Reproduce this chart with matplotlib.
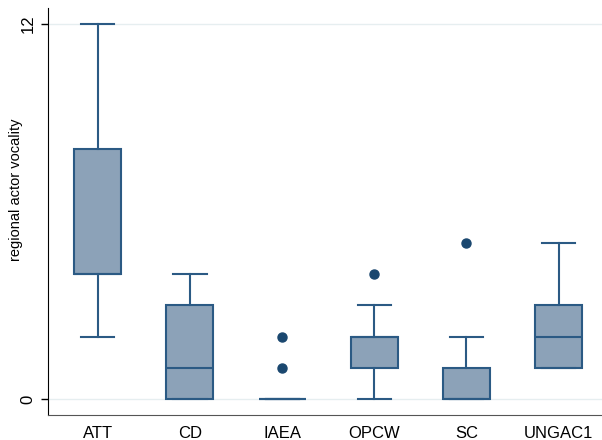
import matplotlib
matplotlib.use("Agg")
import matplotlib.pyplot as plt

plt.rcParams['font.family'] = ['Liberation Sans', 'DejaVu Sans']

boxcolor = '#8ca2b8'
edgecolor = '#2b5a84'
dotcolor = '#1a476f'
gridcolor = '#e6eef0'

groups = ['ATT', 'CD', 'IAEA', 'OPCW', 'SC', 'UNGAC1']
whislo = [2, 0, 0, 0, 0, 1]
q1 = [4, 0, 0, 1, 0, 1]
med = [4, 1, 0, 2, 0, 2]
q3 = [8, 3, 0, 2, 1, 3]
whishi = [12, 4, 0, 3, 2, 5]
outliers = [[], [], [1, 2], [4], [5], []]

stats = []
for i in range(len(groups)):
    stats.append(dict(label=groups[i], whislo=whislo[i], q1=q1[i], med=med[i],
                      q3=q3[i], whishi=whishi[i], fliers=outliers[i]))

fig = plt.figure(figsize=(6.02, 4.40), dpi=100)
ax = fig.add_axes([48 / 602, 25 / 440, 554 / 602, 407 / 440])

for y in [0, 12]:
    ax.axhline(y, color=gridcolor, lw=1, zorder=0)

ax.bxp(stats, positions=range(1, len(groups) + 1), widths=0.51, patch_artist=True,
       boxprops=dict(facecolor=boxcolor, edgecolor=edgecolor, linewidth=1.5),
       medianprops=dict(color=edgecolor, linewidth=1.5),
       whiskerprops=dict(color=edgecolor, linewidth=1.5),
       capprops=dict(color=edgecolor, linewidth=1.5),
       flierprops=dict(marker='o', markerfacecolor=dotcolor, markeredgecolor=dotcolor,
                       markersize=6.5),
       capwidths=0.36)

ax.set_xlim(0.46, 6.47)
ax.set_ylim(-0.5, 12.5)
ax.set_yticks([0, 12])
ax.set_yticklabels(['0', '12'], rotation=90, va='center', fontsize=12)
ax.set_xticks(range(1, len(groups) + 1))
ax.set_xticklabels(groups, fontsize=12)
ax.tick_params(axis='x', length=0, pad=8)
ax.tick_params(axis='y', length=5, width=1, pad=4)
ax.set_ylabel('regional actor vocality', fontsize=10.5)
ax.yaxis.set_label_coords(-0.045, 0.553)

ax.spines['top'].set_visible(False)
ax.spines['right'].set_visible(False)
ax.spines['left'].set_color('#000000')
ax.spines['bottom'].set_color('#555555')

fig.savefig('out.png', dpi=100)
